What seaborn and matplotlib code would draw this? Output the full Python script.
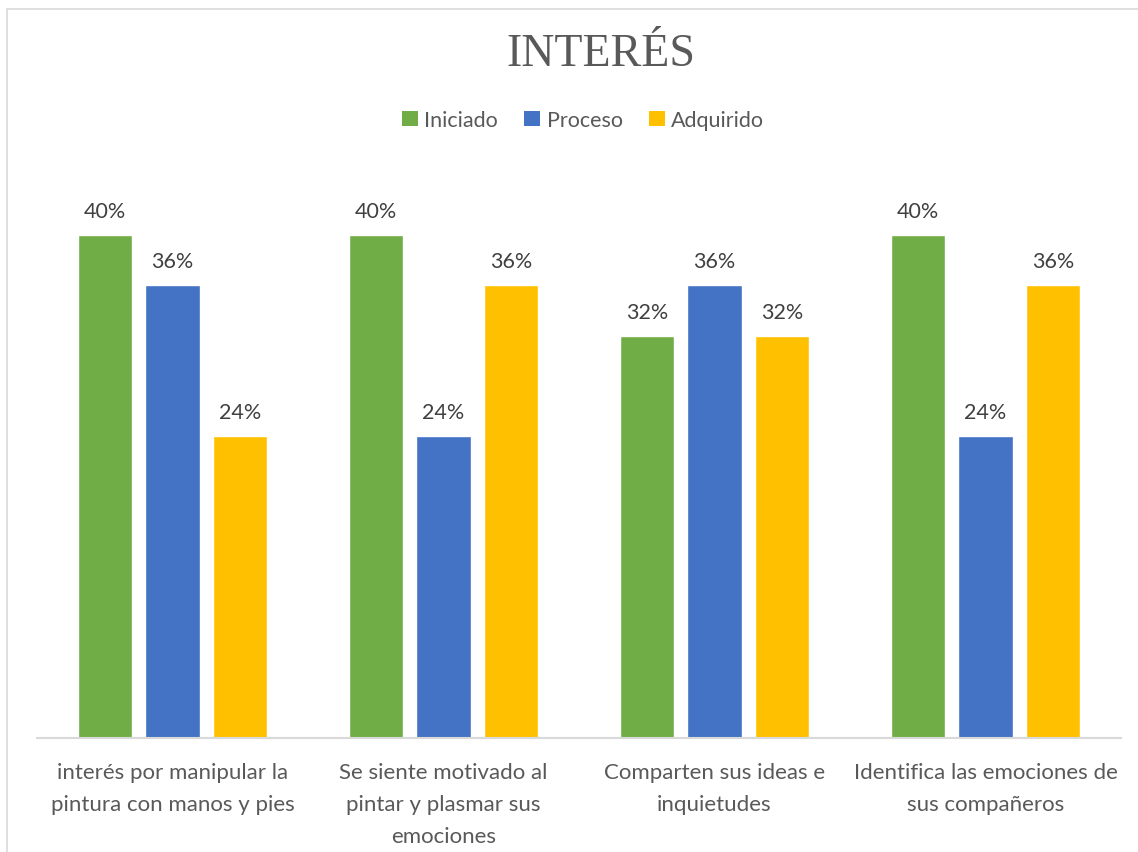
import matplotlib
matplotlib.use("Agg")
import matplotlib.pyplot as plt
import seaborn as sns
import pandas as pd
from matplotlib.patches import Rectangle, Patch

categories = ["interés por manipular la\npintura con manos y pies",
              "Se siente motivado al\npintar y plasmar sus\nemociones",
              "Comparten sus ideas e\ninquietudes",
              "Identifica las emociones de\nsus compañeros"]
series = ["Iniciado", "Proceso", "Adquirido"]
iniciado = [40, 40, 32, 40]
proceso = [36, 24, 36, 24]
adquirido = [24, 36, 32, 36]
colors = ["#70AD47", "#4472C4", "#FFC000"]

rows = []
for s, vals in zip(series, [iniciado, proceso, adquirido]):
    for c, v in zip(categories, vals):
        rows.append({"cat": c, "serie": s, "val": v})
df = pd.DataFrame(rows)

sns.set_theme(style="white")
plt.rcParams['font.family'] = ['Lato', 'DejaVu Sans']

fig = plt.figure(figsize=(11.38, 8.53), dpi=100)
ax = fig.add_axes([37/1138, (853-739)/853, (1121-37)/1138, (739-173)/853])

sns.barplot(data=df, x="cat", y="val", hue="serie", order=categories,
            hue_order=series, palette=colors, width=0.75, gap=0.2,
            ax=ax, legend=False, saturation=1)

for cont in ax.containers:
    ax.bar_label(cont, labels=[f"{int(v)}%" for v in cont.datavalues],
                 padding=10, fontsize=15.5, color="#404040")

ax.set_ylim(0, 45)
ax.set_xlim(-0.5, 3.5)
ax.set_xlabel("")
ax.set_ylabel("")
ax.set_yticks([])
for sp in ["top", "right", "left"]:
    ax.spines[sp].set_visible(False)
ax.spines["bottom"].set_color("#D9D9D9")
ax.spines["bottom"].set_linewidth(1.5)
ax.tick_params(axis="x", length=0, pad=17, labelsize=16, colors="#595959")
for t in ax.get_xticklabels():
    t.set_linespacing(1.75)

fig.text(601/1138, 1 - 55/853, "INTERÉS", ha="center", va="center",
         fontsize=33, color="#595959", family=["Liberation Serif", "DejaVu Serif"])

handles = [Patch(facecolor=c, edgecolor="none") for c in colors]
fig.legend(handles, series, loc="center", bbox_to_anchor=(583/1138, 1 - 121/853),
           ncol=3, frameon=False, fontsize=15.5, handlelength=0.75, handleheight=0.75,
           handletextpad=0.3, columnspacing=1.2, labelcolor="#595959")

fig.patches.append(Rectangle((7/1138, -0.1), 1.2, 1 - 10/853 + 0.1,
                             transform=fig.transFigure, fill=False,
                             edgecolor="#D9D9D9", linewidth=1.2))

fig.savefig("out.png", dpi=100, facecolor="white")
